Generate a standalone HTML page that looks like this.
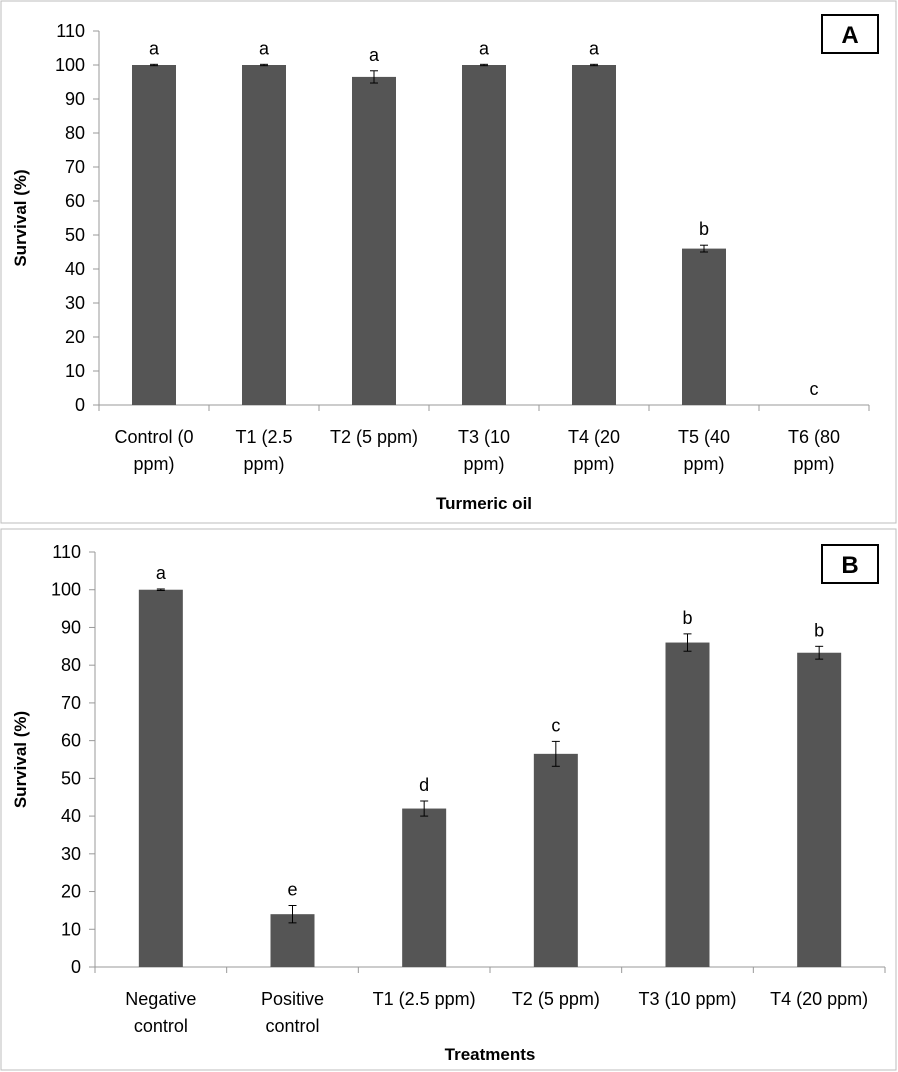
<!DOCTYPE html>
<html><head><meta charset="utf-8"><style>
body{margin:0;background:#fff}
svg{display:block;font-family:"Liberation Sans",sans-serif}
</style></head><body>
<svg id="s" width="898" height="1072" xmlns="http://www.w3.org/2000/svg">
<rect x="1" y="1" width="895" height="522" fill="#fff" stroke="#bdbdbd"/>
<rect x="1" y="529" width="895" height="541" fill="#fff" stroke="#bdbdbd"/>
<g id="ga"></g>
<g id="gb"></g>
</svg>
<script>
const catsA=[["Control (0","ppm)"],["T1 (2.5","ppm)"],["T2 (5 ppm)"],["T3 (10","ppm)"],["T4 (20","ppm)"],["T5 (40","ppm)"],["T6 (80","ppm)"]];
const valsA=[100,100,96.5,100,100,46,0];
const errA=[0.2,0.2,1.8,0.2,0.2,1,0];
const letA=["a","a","a","a","a","b","c"];
const catsB=[["Negative","control"],["Positive","control"],["T1 (2.5 ppm)"],["T2 (5 ppm)"],["T3 (10 ppm)"],["T4 (20 ppm)"]];
const valsB=[100,14,42,56.5,86,83.3];
const errB=[0.2,2.3,2,3.3,2.3,1.7];
const letB=["a","e","d","c","b","b"];
const ticks=[0,10,20,30,40,50,60,70,80,90,100,110];
const NS="http://www.w3.org/2000/svg";
function el(p,t,a,txt){const e=document.createElementNS(NS,t);for(const k in a)e.setAttribute(k,a[k]);if(txt!==undefined)e.textContent=txt;p.appendChild(e);return e;}
function chart(g,o,cats,vals,errs,lets){
 const y=v=>o.y0-(v/110)*(o.y0-o.y110);
 const bw=(o.x1-o.x0)/cats.length;
 const x=i=>o.x0+bw*(i+0.5);
 let a=el(g,"line",{x1:o.x0,x2:o.x0,y1:o.y110,y2:o.y0,stroke:"#999"});
 
 a=el(g,"line",{x1:o.x0,x2:o.x1,y1:o.y0,y2:o.y0,stroke:"#999"});
 
 ticks.forEach(t=>{
  el(g,"line",{x1:o.x0-6,x2:o.x0,y1:y(t),y2:y(t),stroke:"#999"});
  const tx=el(g,"text",{x:o.x0-14,y:y(t)+6,"text-anchor":"end","font-size":"18"},t);
  
 });
 for(let i=0;i<=cats.length;i++)el(g,"line",{x1:o.x0+bw*i,x2:o.x0+bw*i,y1:o.y0,y2:o.y0+6,stroke:"#999"});
 cats.forEach((c,i)=>{
  const b=el(g,"rect",{x:x(i)-22,y:y(vals[i]),width:44,height:o.y0-y(vals[i]),fill:"#555"});
  
  const e=errs[i];
  if(vals[i]>0){
   el(g,"line",{x1:x(i),x2:x(i),y1:y(vals[i]+e),y2:y(vals[i]-e),stroke:"#000"});
   el(g,"line",{x1:x(i)-4,x2:x(i)+4,y1:y(vals[i]+e),y2:y(vals[i]+e),stroke:"#000"});
   el(g,"line",{x1:x(i)-4,x2:x(i)+4,y1:y(vals[i]-e),y2:y(vals[i]-e),stroke:"#000"});
  }
  const l=el(g,"text",{x:x(i),y:y(vals[i]+e)-10,"text-anchor":"middle","font-size":"18"},lets[i]);
  
  c.forEach((line,j)=>{
   const t=el(g,"text",{x:x(i),y:o.y0+38+j*27,"text-anchor":"middle","font-size":"18"},line);
   
  });
 });
 let t=el(g,"text",{x:(o.x0+o.x1)/2,y:o.xt,"text-anchor":"middle","font-size":"17","font-weight":"bold"},o.xtitle);
 
 t=el(g,"text",{transform:`translate(26,${(o.y0+o.y110)/2}) rotate(-90)`,"text-anchor":"middle","font-size":"17","font-weight":"bold"},"Survival (%)");
 
 const r=el(g,"rect",{x:o.bx,y:o.by,width:56,height:38,fill:"#fff",stroke:"#000","stroke-width":"2"});
 
 t=el(g,"text",{x:o.bx+28,y:o.by+28,"text-anchor":"middle","font-size":"24","font-weight":"bold"},o.label);
 
}
chart(document.getElementById('ga'),{x0:99,x1:869,y0:405,y110:31,xt:509,xtitle:"Turmeric oil",bx:822,by:15,label:"A"},catsA,valsA,errA,letA);
chart(document.getElementById('gb'),{x0:95,x1:885,y0:967,y110:552,xt:1060,xtitle:"Treatments",bx:822,by:545,label:"B"},catsB,valsB,errB,letB);
</script>
</body></html>
